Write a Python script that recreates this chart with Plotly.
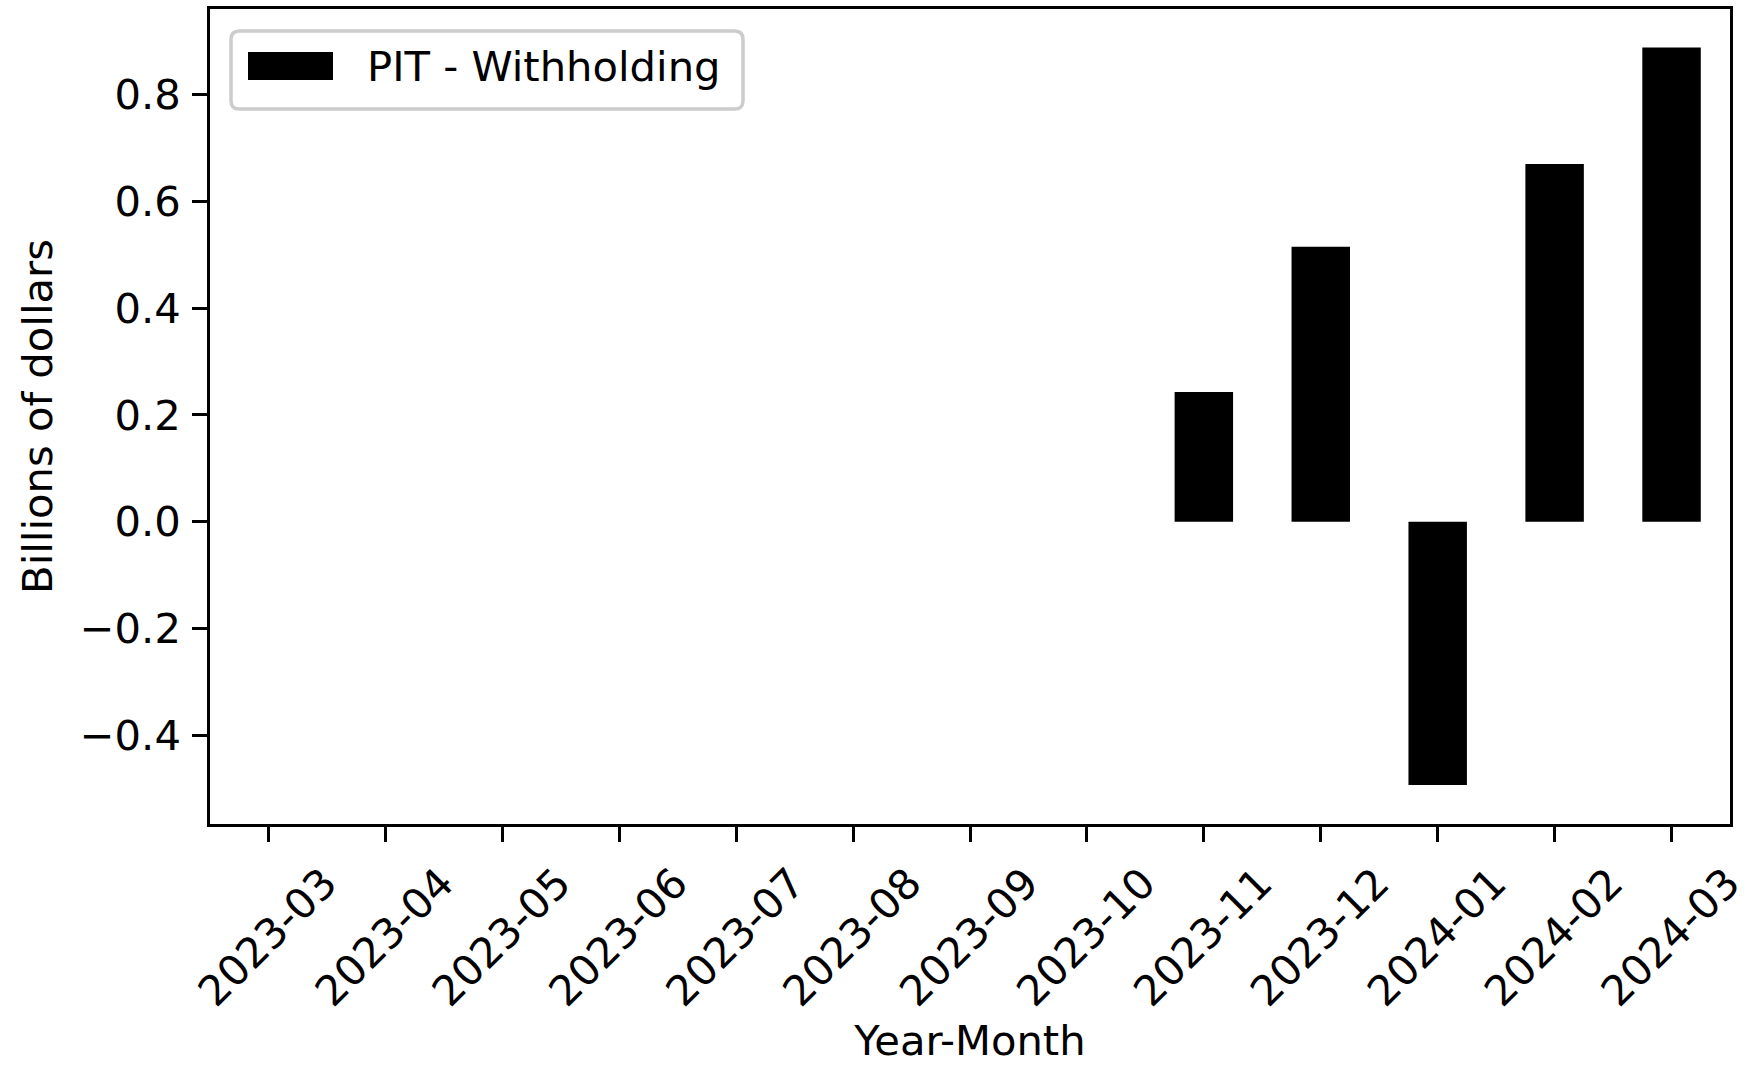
import plotly.graph_objects as go

months = ["2023-03", "2023-04", "2023-05", "2023-06", "2023-07", "2023-08", "2023-09",
          "2023-10", "2023-11", "2023-12", "2024-01", "2024-02", "2024-03"]
pit_withholding = [None, None, None, None, None, None, None, None,
                   0.243, 0.515, -0.493, 0.670, 0.888]
series_name = "PIT - Withholding"
y_ticks = [-0.4, -0.2, 0.0, 0.2, 0.4, 0.6, 0.8]

W, H = 1752, 1065
L, R, T, B = 210, 1730, 9, 824
FONT = "DejaVu Sans"
FS = 41.7

def px(x):
    return (x - L) / (R - L)

def py(y):
    return (B - y) / (B - T)

fig = go.Figure()
fig.add_trace(go.Bar(x=months, y=pit_withholding, name=series_name,
                     marker=dict(color="black", line=dict(width=0)),
                     width=0.5, showlegend=False))

# legend box (matplotlib style) drawn as shape + text
x0, x1, y0, y1, r = 231, 743, 31, 109, 8.3
path = (f"M {px(x0+r)},{py(y0)} L {px(x1-r)},{py(y0)} Q {px(x1)},{py(y0)} {px(x1)},{py(y0+r)} "
        f"L {px(x1)},{py(y1-r)} Q {px(x1)},{py(y1)} {px(x1-r)},{py(y1)} "
        f"L {px(x0+r)},{py(y1)} Q {px(x0)},{py(y1)} {px(x0)},{py(y1-r)} "
        f"L {px(x0)},{py(y0+r)} Q {px(x0)},{py(y0)} {px(x0+r)},{py(y0)} Z")
shapes = [
    dict(type="path", xref="paper", yref="paper", path=path,
         line=dict(color="#cccccc", width=3.5), fillcolor="rgba(255,255,255,0.8)"),
    dict(type="rect", xref="paper", yref="paper", x0=px(248), x1=px(333), y0=py(80), y1=py(52),
         line=dict(width=0), fillcolor="black"),
]
annotations = [
    dict(xref="paper", yref="paper", x=px(365), y=py(66), text=series_name, showarrow=False,
         xanchor="left", yanchor="middle", font=dict(family=FONT, size=FS, color="black")),
]

fig.update_layout(
    width=W, height=H,
    margin=dict(l=L, r=W - R, t=T, b=H - B, pad=0, autoexpand=False),
    paper_bgcolor="white", plot_bgcolor="white",
    font=dict(family=FONT, size=FS, color="black"),
    shapes=shapes, annotations=annotations,
    showlegend=False,
)
fig.update_xaxes(
    type="category", range=[-0.5, 12.5], automargin=False,
    showline=True, linecolor="black", linewidth=3.3, mirror=True,
    ticks="outside", ticklen=14.6, tickwidth=3.3, tickcolor="black",
    tickangle=-45, ticklabelshift=56, showgrid=False, zeroline=False,
    title=dict(text="Year-Month", font=dict(family=FONT, size=FS), standoff=11),
)
fig.update_yaxes(
    range=[-0.566, 0.960], tickvals=y_ticks, automargin=False,
    ticktext=[f"{v:.1f}".replace("-", "\u2212") for v in y_ticks],
    showline=True, linecolor="black", linewidth=3.3, mirror=True,
    ticks="outside", ticklen=14.6, tickwidth=3.3, tickcolor="black",
    showgrid=False, zeroline=False, ticklabelstandoff=3,
    title=dict(text="Billions of dollars", font=dict(family=FONT, size=FS), standoff=15),
)

fig.write_html("out.html", config={"displayModeBar": False},
               post_script="document.body.style.margin='0';")
